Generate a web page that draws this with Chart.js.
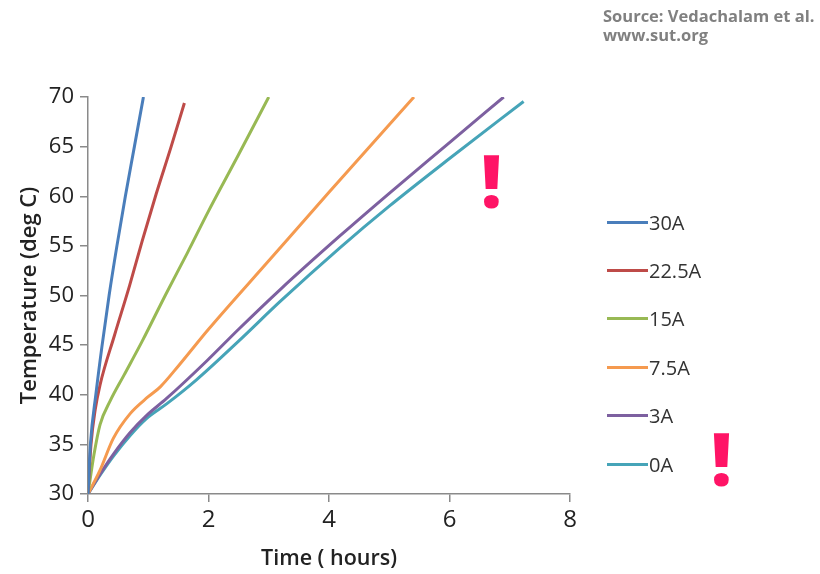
<!DOCTYPE html>
<html>
<head>
<meta charset="utf-8">
<script src="https://cdn.jsdelivr.net/npm/chart.js@4.4.1/dist/chart.umd.min.js"></script>
<style>
  html, body { margin: 0; padding: 0; background: #fff; }
  #wrap { position: relative; width: 820px; height: 574px; overflow: hidden; font-family: 'Open Sans', sans-serif; }
  #chart { position: absolute; left: 0; top: 0; }
  .source { position: absolute; left: 603px; color: #808080; font-weight: 700; font-size: 16.5px; line-height: 19px; }
  .legend { position: absolute; left: 607px; top: 198px; }
  .legend div { height: 48.4px; display: flex; align-items: center; font-size: 20px; color: #333; }
  .legend span.swatch { display: inline-block; width: 41px; height: 3px; margin-right: 1px; }
  .bang { position: absolute; color: #ff1466; font-weight: 800; font-size: 72px; line-height: 72px; }
</style>
</head>
<body>
<div id="wrap">
  <canvas id="chart" width="820" height="574"></canvas>
  <div class="source" style="top:6px">Source: Vedachalam et al.</div>
  <div class="source" style="top:25px">www.sut.org</div>
  <div class="legend" id="legend"></div>
  <div class="bang" style="left:481px; top:144px">!</div>
  <div class="bang" style="left:711px; top:422px">!</div>
</div>
<script>
// series labels and colours (legend order)
const seriesLabels = ['30A', '22.5A', '15A', '7.5A', '3A', '0A'];
const seriesColors = ['#4a7ebb', '#be4b48', '#98b954', '#f59a4f', '#7d60a0', '#46a4b8'];

// time (hours) and temperature (deg C)
const time30A  = [0, 0.04, 0.13, 0.23, 0.35, 0.48, 0.62, 0.77, 0.92];
const temp30A  = [30, 35, 40, 44.8, 50, 55, 60, 65, 70];

const time22A  = [0, 0.05, 0.12, 0.2, 0.44, 0.69, 0.9, 1.13, 1.38, 1.6];
const temp22A  = [30, 35, 38.5, 41, 46, 51, 55.5, 60.2, 65, 69.4];

const time15A  = [0, 0.1, 0.2, 0.37, 0.6, 0.9, 1.29, 1.65, 2.0, 2.5, 3.0];
const temp15A  = [30, 34, 37, 39.4, 42.0, 45.4, 50.1, 54.3, 58.5, 64.2, 70];

const time7A   = [0, 0.2, 0.42, 0.7, 1.0, 1.2, 1.5, 2.0, 3.0, 4.0, 5.41];
const temp7A   = [30, 32.4, 35.6, 38.1, 39.8, 40.8, 42.9, 46.6, 53.5, 60.4, 70];

const time3A   = [0, 0.2, 0.42, 0.7, 0.97, 1.3, 1.97, 2.5, 3.19, 4.18, 5.0, 6.0, 6.9];
const temp3A   = [30, 32, 34, 36.2, 37.9, 39.6, 43.4, 46.6, 50.6, 56.0, 60.3, 65.4, 70];

const time0A   = [0, 0.2, 0.42, 0.7, 0.97, 1.31, 1.8, 2.5, 3.19, 4.18, 5.0, 6.0, 7.23];
const temp0A   = [30, 31.9, 33.8, 35.9, 37.6, 39.1, 41.5, 45.4, 49.4, 54.8, 59.0, 63.8, 69.55];

const seriesTimes = [time30A, time22A, time15A, time7A, time3A, time0A];
const seriesTemps = [temp30A, temp22A, temp15A, temp7A, temp3A, temp0A];

// axis ranges
const xMin = 0, xMax = 8, xStep = 2;
const yMin = 30, yMax = 70, yStep = 5;

const axisColor = '#8a8a8a';
const textColor = '#222';
const fontFamily = "'Open Sans', sans-serif";

const datasets = seriesLabels.map((label, i) => ({
  label,
  data: seriesTimes[i].map((t, k) => ({ x: t, y: seriesTemps[i][k] })),
  borderColor: seriesColors[i],
  backgroundColor: seriesColors[i],
  borderWidth: 3,
  pointRadius: 0,
  cubicInterpolationMode: 'monotone',
  fill: false
}));

// html legend built from the same arrays
const legendEl = document.getElementById('legend');
seriesLabels.forEach((label, i) => {
  const row = document.createElement('div');
  row.innerHTML = `<span class="swatch" style="background:${seriesColors[i]}"></span>${label}`;
  legendEl.appendChild(row);
});

new Chart(document.getElementById('chart'), {
  type: 'line',
  data: { datasets },
  options: {
    responsive: false,
    animation: false,
    layout: { padding: { left: 0, top: 97, right: 250, bottom: 0 } },
    plugins: { legend: { display: false }, tooltip: { enabled: false } },
    scales: {
      x: {
        type: 'linear',
        min: xMin, max: xMax,
        afterFit: s => { s.height = 80; },
        border: { color: axisColor, width: 1.5 },
        grid: { drawOnChartArea: false, drawTicks: true, tickLength: 8, color: axisColor, lineWidth: 1.5 },
        ticks: { stepSize: xStep, color: textColor, padding: 4, font: { family: fontFamily, size: 24 } },
        title: { display: true, text: 'Time ( hours)', color: textColor, padding: { top: 0, bottom: 2 },
                 font: { family: fontFamily, size: 21.5, weight: '600' } }
      },
      y: {
        type: 'linear',
        min: yMin, max: yMax,
        afterFit: s => { s.width = 88; },
        border: { color: axisColor, width: 1.5 },
        grid: { drawOnChartArea: false, drawTicks: true, tickLength: 8, color: axisColor, lineWidth: 1.5 },
        ticks: { stepSize: yStep, color: textColor, padding: 6, font: { family: fontFamily, size: 22 } },
        title: { display: true, text: 'Temperature (deg C)', color: textColor, padding: { top: 17, bottom: 0 },
                 font: { family: fontFamily, size: 22, weight: '600' } }
      }
    }
  }
});
</script>
</body>
</html>
